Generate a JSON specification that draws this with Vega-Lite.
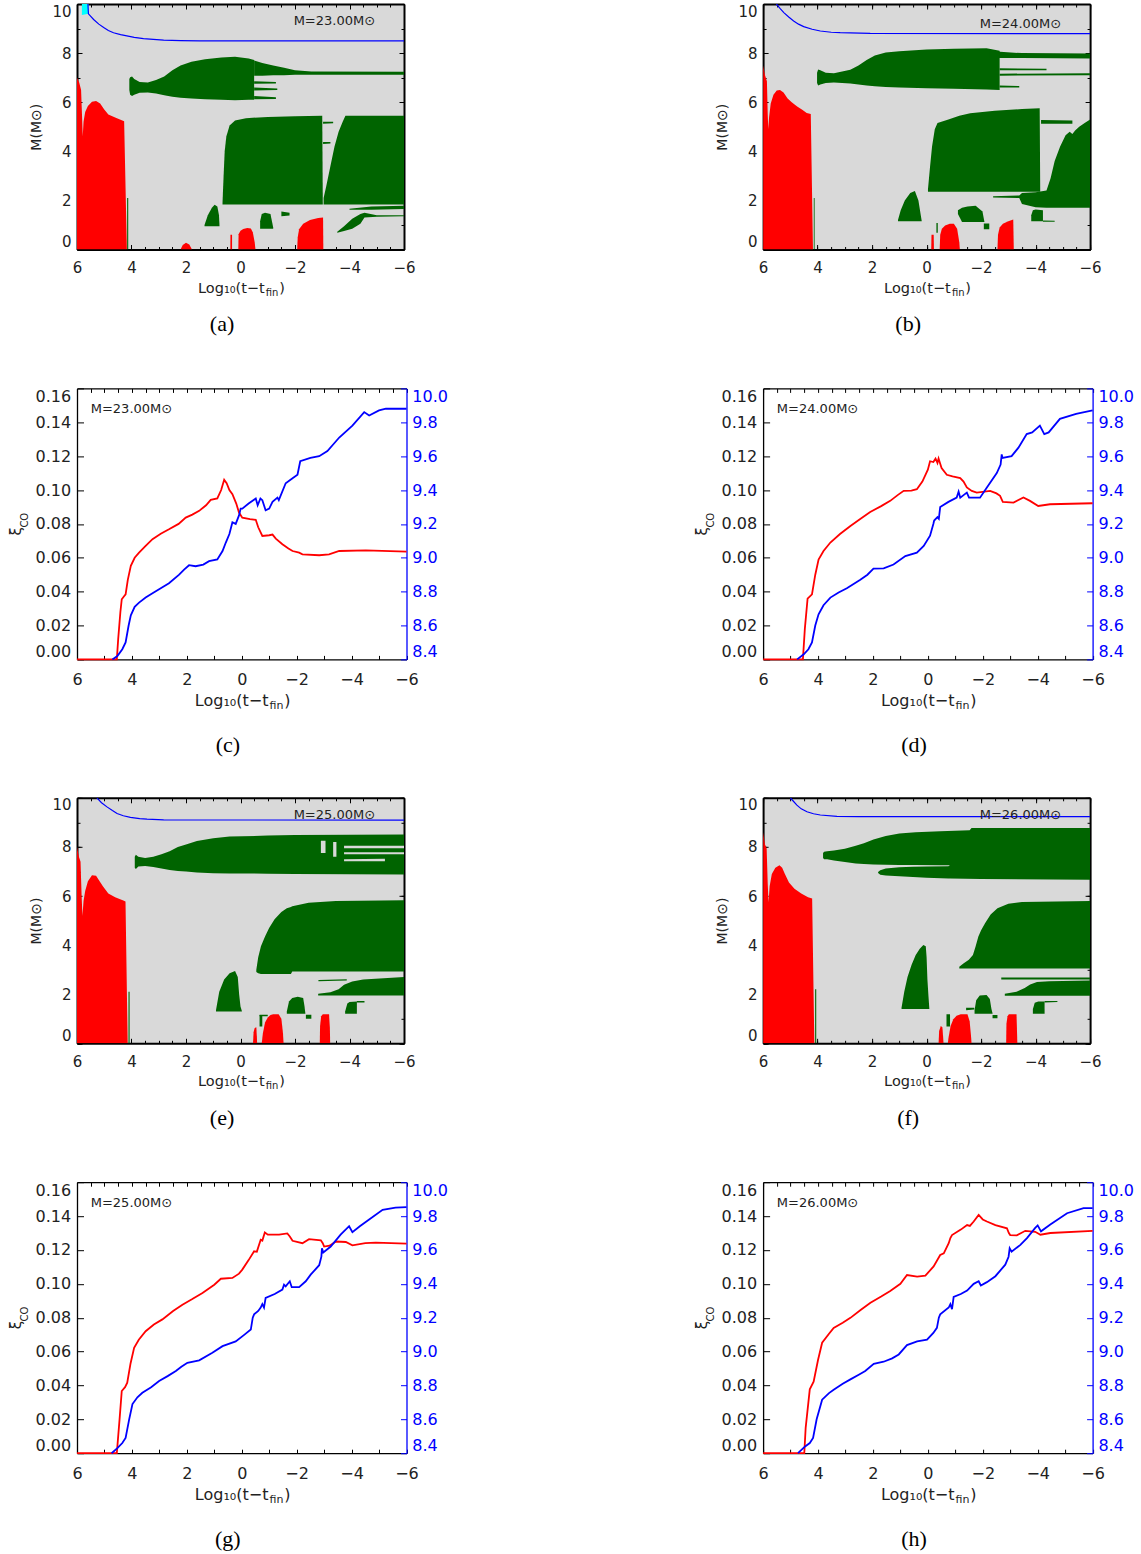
{
"$schema": "https://vega.github.io/schema/vega-lite/v6.json",
"background": "white",
"padding": {"left": 8, "top": 3, "right": 2, "bottom": 0},
"columns": 2,
"spacing": {"row": 138.4, "column": 356.1},
"bounds": "flush",
"config": {
 "view": {"stroke": null},
 "axis": {"grid": false, "zindex": 1, "labelFont": "DejaVu Sans", "titleFont": "DejaVu Sans", "labelColor": "#222", "titleColor": "#222", "titleFontWeight": "normal", "tickColor": "black", "domainColor": "black", "labelOverlap": false, "tickWidth": 1},
 "title": {"font": "Liberation Serif", "fontSize": 22, "fontWeight": "normal", "color": "black", "orient": "bottom", "anchor": "middle", "frame": "bounds", "baseline": "top"}
},
"datasets": {
"reg": [
{"g":"ar1","x":6,"l":0,"h":7.0},{"g":"ar1","x":5.92,"l":0,"h":6.8},{"g":"ar1","x":5.85,"l":0,"h":6.5},{"g":"ar1","x":5.81,"l":0,"h":5.3},{"g":"ar1","x":5.79,"l":0,"h":4.6},{"g":"ar1","x":5.76,"l":0,"h":5.2},{"g":"ar1","x":5.7,"l":0,"h":5.6},{"g":"ar1","x":5.6,"l":0,"h":5.85},{"g":"ar1","x":5.45,"l":0,"h":6.02},{"g":"ar1","x":5.3,"l":0,"h":6.05},{"g":"ar1","x":5.15,"l":0,"h":5.95},{"g":"ar1","x":5.0,"l":0,"h":5.7},{"g":"ar1","x":4.85,"l":0,"h":5.5},{"g":"ar1","x":4.6,"l":0,"h":5.38},{"g":"ar1","x":4.27,"l":0,"h":5.22},{"g":"ar1","x":4.17,"l":0,"h":0},
{"g":"ar2","x":2.2,"l":0,"h":0},{"g":"ar2","x":2.12,"l":0,"h":0.18},{"g":"ar2","x":2.0,"l":0,"h":0.27},{"g":"ar2","x":1.88,"l":0,"h":0.2},{"g":"ar2","x":1.78,"l":0,"h":0},
{"g":"ar3","x":0.371,"l":0,"h":0},{"g":"ar3","x":0.37,"l":0,"h":0.6},{"g":"ar3","x":0.31,"l":0,"h":0.6},{"g":"ar3","x":0.309,"l":0,"h":0},
{"g":"ar4","x":0.08,"l":0,"h":0},{"g":"ar4","x":0.07,"l":0,"h":0.62},{"g":"ar4","x":0.0,"l":0,"h":0.76},{"g":"ar4","x":-0.1,"l":0,"h":0.84},{"g":"ar4","x":-0.25,"l":0,"h":0.88},{"g":"ar4","x":-0.38,"l":0,"h":0.86},{"g":"ar4","x":-0.45,"l":0,"h":0.7},{"g":"ar4","x":-0.52,"l":0,"h":0.3},{"g":"ar4","x":-0.55,"l":0,"h":0},
{"g":"ar5","x":-2.08,"l":0,"h":0},{"g":"ar5","x":-2.1,"l":0,"h":0.5},{"g":"ar5","x":-2.15,"l":0,"h":0.82},{"g":"ar5","x":-2.3,"l":0,"h":1.05},{"g":"ar5","x":-2.55,"l":0,"h":1.2},{"g":"ar5","x":-2.85,"l":0,"h":1.28},{"g":"ar5","x":-3.03,"l":0,"h":1.3},{"g":"ar5","x":-3.04,"l":0,"h":0},
{"g":"ag1","x":4.08,"l":6.5,"h":6.95},{"g":"ag1","x":4.05,"l":6.3,"h":7.02},{"g":"ag1","x":3.98,"l":6.25,"h":7.05},{"g":"ag1","x":3.9,"l":6.3,"h":6.95},{"g":"ag1","x":3.7,"l":6.38,"h":6.82},{"g":"ag1","x":3.4,"l":6.4,"h":6.8},{"g":"ag1","x":3.1,"l":6.35,"h":6.9},{"g":"ag1","x":2.8,"l":6.28,"h":7.05},{"g":"ag1","x":2.5,"l":6.22,"h":7.3},{"g":"ag1","x":2.2,"l":6.18,"h":7.5},{"g":"ag1","x":1.8,"l":6.15,"h":7.65},{"g":"ag1","x":1.3,"l":6.12,"h":7.75},{"g":"ag1","x":0.7,"l":6.1,"h":7.82},{"g":"ag1","x":0.2,"l":6.08,"h":7.85},{"g":"ag1","x":-0.3,"l":6.1,"h":7.78},{"g":"ag1","x":-0.5,"l":6.1,"h":7.72},
{"g":"ag2","x":-0.5,"l":7.08,"h":7.7},{"g":"ag2","x":-0.8,"l":7.08,"h":7.6},{"g":"ag2","x":-1.2,"l":7.1,"h":7.5},{"g":"ag2","x":-1.6,"l":7.1,"h":7.4},{"g":"ag2","x":-2.0,"l":7.12,"h":7.3},{"g":"ag2","x":-2.6,"l":7.12,"h":7.25},{"g":"ag2","x":-6,"l":7.12,"h":7.24},
{"g":"ag3","x":-0.5,"l":6.75,"h":6.85},{"g":"ag3","x":-1.3,"l":6.76,"h":6.82},
{"g":"ag4","x":-0.5,"l":6.48,"h":6.6},{"g":"ag4","x":-1.35,"l":6.5,"h":6.56},
{"g":"ag5","x":-0.5,"l":6.12,"h":6.25},{"g":"ag5","x":-1.3,"l":6.13,"h":6.2},
{"g":"ag6","x":0.66,"l":1.83,"h":1.9},{"g":"ag6","x":0.62,"l":1.83,"h":3.0},{"g":"ag6","x":0.58,"l":1.83,"h":4.0},{"g":"ag6","x":0.52,"l":1.83,"h":4.6},{"g":"ag6","x":0.4,"l":1.83,"h":5.05},{"g":"ag6","x":0.2,"l":1.83,"h":5.25},{"g":"ag6","x":-0.2,"l":1.83,"h":5.35},{"g":"ag6","x":-1.0,"l":1.83,"h":5.4},{"g":"ag6","x":-2.0,"l":1.83,"h":5.43},{"g":"ag6","x":-3.0,"l":1.83,"h":5.45},{"g":"ag6","x":-3.02,"l":1.83,"h":1.9},
{"g":"ag7","x":-3.05,"l":1.83,"h":2.1},{"g":"ag7","x":-3.15,"l":1.83,"h":2.6},{"g":"ag7","x":-3.3,"l":1.83,"h":3.4},{"g":"ag7","x":-3.45,"l":1.83,"h":4.2},{"g":"ag7","x":-3.6,"l":1.83,"h":4.8},{"g":"ag7","x":-3.75,"l":1.83,"h":5.2},{"g":"ag7","x":-3.85,"l":1.83,"h":5.45},{"g":"ag7","x":-6,"l":1.83,"h":5.45},
{"g":"ag8","x":-3.55,"l":0.68,"h":0.72},{"g":"ag8","x":-3.8,"l":0.75,"h":0.95},{"g":"ag8","x":-4.1,"l":0.85,"h":1.25},{"g":"ag8","x":-4.4,"l":1.05,"h":1.45},{"g":"ag8","x":-4.55,"l":1.3,"h":1.5},{"g":"ag8","x":-5.0,"l":1.33,"h":1.4},{"g":"ag8","x":-6,"l":1.35,"h":1.4},
{"g":"ag9","x":-4.0,"l":1.62,"h":1.66},{"g":"ag9","x":-4.8,"l":1.62,"h":1.75},{"g":"ag9","x":-6,"l":1.65,"h":1.78},
{"g":"ag10","x":1.32,"l":0.95,"h":1.0},{"g":"ag10","x":1.2,"l":0.95,"h":1.4},{"g":"ag10","x":1.05,"l":0.95,"h":1.7},{"g":"ag10","x":0.95,"l":0.95,"h":1.82},{"g":"ag10","x":0.85,"l":0.95,"h":1.75},{"g":"ag10","x":0.79,"l":0.95,"h":1.4},{"g":"ag10","x":0.77,"l":0.95,"h":0.97},
{"g":"ag11","x":-0.72,"l":0.85,"h":1.15},{"g":"ag11","x":-0.78,"l":0.85,"h":1.45},{"g":"ag11","x":-0.9,"l":0.85,"h":1.5},{"g":"ag11","x":-1.1,"l":0.85,"h":1.45},{"g":"ag11","x":-1.2,"l":0.85,"h":0.9},
{"g":"ag12","x":-1.5,"l":1.35,"h":1.55},{"g":"ag12","x":-1.8,"l":1.38,"h":1.5},
{"g":"ag13","x":4.16,"l":0,"h":2.1},{"g":"ag13","x":4.12,"l":0,"h":2.1},
{"g":"ag14","x":-3.03,"l":5.12,"h":5.2},{"g":"ag14","x":-3.4,"l":5.14,"h":5.2},
{"g":"ag15","x":-3.03,"l":4.3,"h":4.38},{"g":"ag15","x":-3.3,"l":4.32,"h":4.38},
{"g":"ac1","k":"c","x":5.82,"l":9.55,"h":10},{"g":"ac1","k":"c","x":5.58,"l":9.6,"h":10},
{"g":"br1","x":6,"l":0,"h":7.5},{"g":"br1","x":5.93,"l":0,"h":7.1},{"g":"br1","x":5.86,"l":0,"h":6.85},{"g":"br1","x":5.83,"l":0,"h":5.5},{"g":"br1","x":5.81,"l":0,"h":4.9},{"g":"br1","x":5.78,"l":0,"h":5.4},{"g":"br1","x":5.72,"l":0,"h":5.95},{"g":"br1","x":5.62,"l":0,"h":6.3},{"g":"br1","x":5.5,"l":0,"h":6.48},{"g":"br1","x":5.38,"l":0,"h":6.5},{"g":"br1","x":5.25,"l":0,"h":6.4},{"g":"br1","x":5.1,"l":0,"h":6.15},{"g":"br1","x":4.95,"l":0,"h":6.0},{"g":"br1","x":4.75,"l":0,"h":5.82},{"g":"br1","x":4.55,"l":0,"h":5.68},{"g":"br1","x":4.4,"l":0,"h":5.56},{"g":"br1","x":4.25,"l":0,"h":5.52},{"g":"br1","x":4.17,"l":0,"h":0},
{"g":"br2","x":-0.17,"l":0,"h":0},{"g":"br2","x":-0.18,"l":0,"h":0.6},{"g":"br2","x":-0.26,"l":0,"h":0.6},{"g":"br2","x":-0.27,"l":0,"h":0},
{"g":"br3","x":-0.48,"l":0,"h":0},{"g":"br3","x":-0.5,"l":0,"h":0.6},{"g":"br3","x":-0.56,"l":0,"h":0.85},{"g":"br3","x":-0.68,"l":0,"h":0.98},{"g":"br3","x":-0.85,"l":0,"h":1.05},{"g":"br3","x":-1.0,"l":0,"h":1.05},{"g":"br3","x":-1.12,"l":0,"h":0.85},{"g":"br3","x":-1.2,"l":0,"h":0.3},{"g":"br3","x":-1.22,"l":0,"h":0},
{"g":"br4","x":-2.6,"l":0,"h":0},{"g":"br4","x":-2.62,"l":0,"h":0.6},{"g":"br4","x":-2.68,"l":0,"h":0.9},{"g":"br4","x":-2.8,"l":0,"h":1.05},{"g":"br4","x":-3.0,"l":0,"h":1.15},{"g":"br4","x":-3.18,"l":0,"h":1.22},{"g":"br4","x":-3.2,"l":0,"h":0},
{"g":"bg1","x":4.02,"l":6.78,"h":7.2},{"g":"bg1","x":3.98,"l":6.68,"h":7.33},{"g":"bg1","x":3.9,"l":6.72,"h":7.3},{"g":"bg1","x":3.7,"l":6.78,"h":7.2},{"g":"bg1","x":3.4,"l":6.8,"h":7.18},{"g":"bg1","x":3.1,"l":6.78,"h":7.25},{"g":"bg1","x":2.8,"l":6.76,"h":7.32},{"g":"bg1","x":2.5,"l":6.72,"h":7.5},{"g":"bg1","x":2.2,"l":6.68,"h":7.72},{"g":"bg1","x":1.9,"l":6.65,"h":7.9},{"g":"bg1","x":1.5,"l":6.62,"h":8.02},{"g":"bg1","x":1.0,"l":6.6,"h":8.08},{"g":"bg1","x":0.0,"l":6.57,"h":8.15},{"g":"bg1","x":-1.0,"l":6.55,"h":8.18},{"g":"bg1","x":-2.2,"l":6.52,"h":8.2},{"g":"bg1","x":-2.68,"l":6.5,"h":8.1},
{"g":"bg2","x":-2.3,"l":7.8,"h":8.15},{"g":"bg2","x":-2.7,"l":7.8,"h":8.05},{"g":"bg2","x":-3.5,"l":7.8,"h":8.0},{"g":"bg2","x":-6,"l":7.78,"h":7.98},
{"g":"bg3","x":-2.68,"l":7.3,"h":7.38},{"g":"bg3","x":-4.4,"l":7.3,"h":7.36},
{"g":"bg4","x":-2.68,"l":7.08,"h":7.16},{"g":"bg4","x":-6,"l":7.1,"h":7.18},
{"g":"bg5","x":-2.68,"l":6.6,"h":6.68},{"g":"bg5","x":-3.4,"l":6.6,"h":6.66},
{"g":"bg6","x":-0.05,"l":2.35,"h":2.45},{"g":"bg6","x":-0.12,"l":2.35,"h":3.3},{"g":"bg6","x":-0.2,"l":2.35,"h":4.2},{"g":"bg6","x":-0.3,"l":2.35,"h":4.9},{"g":"bg6","x":-0.4,"l":2.35,"h":5.15},{"g":"bg6","x":-0.8,"l":2.35,"h":5.3},{"g":"bg6","x":-1.2,"l":2.35,"h":5.45},{"g":"bg6","x":-1.6,"l":2.35,"h":5.55},{"g":"bg6","x":-2.5,"l":2.35,"h":5.65},{"g":"bg6","x":-3.5,"l":2.35,"h":5.72},{"g":"bg6","x":-4.15,"l":2.35,"h":5.75},{"g":"bg6","x":-4.17,"l":2.35,"h":2.4},
{"g":"bg7","x":-2.44,"l":2.12,"h":2.17},{"g":"bg7","x":-3.4,"l":2.1,"h":2.2},{"g":"bg7","x":-3.5,"l":1.85,"h":2.3},{"g":"bg7","x":-4.0,"l":1.72,"h":2.33},{"g":"bg7","x":-4.4,"l":1.7,"h":2.4},{"g":"bg7","x":-4.55,"l":1.7,"h":2.9},{"g":"bg7","x":-4.7,"l":1.7,"h":3.6},{"g":"bg7","x":-4.9,"l":1.7,"h":4.2},{"g":"bg7","x":-5.1,"l":1.7,"h":4.65},{"g":"bg7","x":-5.25,"l":1.7,"h":4.8},{"g":"bg7","x":-5.35,"l":1.7,"h":4.7},{"g":"bg7","x":-5.45,"l":1.7,"h":4.85},{"g":"bg7","x":-5.6,"l":1.7,"h":5.0},{"g":"bg7","x":-5.8,"l":1.7,"h":5.15},{"g":"bg7","x":-6,"l":1.7,"h":5.3},
{"g":"bg8","x":-4.2,"l":5.12,"h":5.28},{"g":"bg8","x":-5.35,"l":5.12,"h":5.25},
{"g":"bg9","x":1.05,"l":1.15,"h":1.2},{"g":"bg9","x":0.95,"l":1.15,"h":1.6},{"g":"bg9","x":0.8,"l":1.15,"h":2.0},{"g":"bg9","x":0.6,"l":1.15,"h":2.3},{"g":"bg9","x":0.43,"l":1.15,"h":2.38},{"g":"bg9","x":0.3,"l":1.15,"h":2.0},{"g":"bg9","x":0.2,"l":1.15,"h":1.3},{"g":"bg9","x":0.18,"l":1.15,"h":1.17},
{"g":"bg10","x":-1.15,"l":1.45,"h":1.6},{"g":"bg10","x":-1.3,"l":1.12,"h":1.7},{"g":"bg10","x":-1.5,"l":1.12,"h":1.75},{"g":"bg10","x":-1.8,"l":1.12,"h":1.78},{"g":"bg10","x":-2.05,"l":1.12,"h":1.55},{"g":"bg10","x":-2.12,"l":1.12,"h":1.14},
{"g":"bg11","x":-2.1,"l":0.82,"h":1.06},{"g":"bg11","x":-2.3,"l":0.82,"h":1.06},
{"g":"bg12","x":-0.36,"l":0.68,"h":1.08},{"g":"bg12","x":-0.41,"l":0.68,"h":1.08},
{"g":"bg13","x":-3.84,"l":1.15,"h":1.4},{"g":"bg13","x":-3.9,"l":1.15,"h":1.6},{"g":"bg13","x":-4.0,"l":1.15,"h":1.63},{"g":"bg13","x":-4.27,"l":1.15,"h":1.6},
{"g":"bg14","x":-4.27,"l":1.13,"h":1.18},{"g":"bg14","x":-4.7,"l":1.13,"h":1.17},
{"g":"bg15","x":4.14,"l":0,"h":2.1},{"g":"bg15","x":4.11,"l":0,"h":2.1},
{"g":"er1","x":6,"l":0,"h":8.0},{"g":"er1","x":5.93,"l":0,"h":7.6},{"g":"er1","x":5.87,"l":0,"h":7.4},{"g":"er1","x":5.83,"l":0,"h":6.0},{"g":"er1","x":5.8,"l":0,"h":5.2},{"g":"er1","x":5.76,"l":0,"h":5.8},{"g":"er1","x":5.7,"l":0,"h":6.2},{"g":"er1","x":5.6,"l":0,"h":6.6},{"g":"er1","x":5.45,"l":0,"h":6.85},{"g":"er1","x":5.3,"l":0,"h":6.82},{"g":"er1","x":5.2,"l":0,"h":6.65},{"g":"er1","x":5.05,"l":0,"h":6.4},{"g":"er1","x":4.85,"l":0,"h":6.1},{"g":"er1","x":4.6,"l":0,"h":5.95},{"g":"er1","x":4.3,"l":0,"h":5.82},{"g":"er1","x":4.22,"l":0,"h":5.78},{"g":"er1","x":4.14,"l":0,"h":0},
{"g":"er2","x":-0.46,"l":0,"h":0},{"g":"er2","x":-0.48,"l":0,"h":0.45},{"g":"er2","x":-0.52,"l":0,"h":0.62},{"g":"er2","x":-0.58,"l":0,"h":0.65},{"g":"er2","x":-0.6,"l":0,"h":0.3},{"g":"er2","x":-0.61,"l":0,"h":0},
{"g":"er3","x":-0.78,"l":0,"h":0},{"g":"er3","x":-0.82,"l":0,"h":0.4},{"g":"er3","x":-0.9,"l":0,"h":0.85},{"g":"er3","x":-1.0,"l":0,"h":1.05},{"g":"er3","x":-1.1,"l":0,"h":1.15},{"g":"er3","x":-1.2,"l":0,"h":1.18},{"g":"er3","x":-1.4,"l":0,"h":1.18},{"g":"er3","x":-1.5,"l":0,"h":1.0},{"g":"er3","x":-1.56,"l":0,"h":0.4},{"g":"er3","x":-1.58,"l":0,"h":0},
{"g":"er4","x":-2.91,"l":0,"h":0},{"g":"er4","x":-2.92,"l":0,"h":0.7},{"g":"er4","x":-2.96,"l":0,"h":1.1},{"g":"er4","x":-3.02,"l":0,"h":1.18},{"g":"er4","x":-3.25,"l":0,"h":1.18},{"g":"er4","x":-3.28,"l":0,"h":0.6},{"g":"er4","x":-3.29,"l":0,"h":0},
{"g":"eg1","x":3.88,"l":7.15,"h":7.6},{"g":"eg1","x":3.84,"l":7.1,"h":7.68},{"g":"eg1","x":3.75,"l":7.2,"h":7.6},{"g":"eg1","x":3.5,"l":7.22,"h":7.55},{"g":"eg1","x":3.2,"l":7.18,"h":7.6},{"g":"eg1","x":2.9,"l":7.12,"h":7.7},{"g":"eg1","x":2.6,"l":7.06,"h":7.82},{"g":"eg1","x":2.3,"l":7.02,"h":8.0},{"g":"eg1","x":2.0,"l":7.0,"h":8.1},{"g":"eg1","x":1.6,"l":6.96,"h":8.24},{"g":"eg1","x":1.0,"l":6.93,"h":8.35},{"g":"eg1","x":0.4,"l":6.92,"h":8.42},{"g":"eg1","x":-1.0,"l":6.91,"h":8.46},{"g":"eg1","x":-2.0,"l":6.9,"h":8.48},{"g":"eg1","x":-6,"l":6.88,"h":8.5},
{"g":"eh1","k":"h","x":-2.95,"l":7.75,"h":8.25},{"g":"eh1","k":"h","x":-3.12,"l":7.75,"h":8.25},
{"g":"eh2","k":"h","x":-3.8,"l":7.95,"h":8.05},{"g":"eh2","k":"h","x":-6,"l":7.95,"h":8.05},
{"g":"eh3","k":"h","x":-3.8,"l":7.7,"h":7.78},{"g":"eh3","k":"h","x":-6,"l":7.7,"h":7.78},
{"g":"eh4","k":"h","x":-3.8,"l":7.42,"h":7.5},{"g":"eh4","k":"h","x":-5.3,"l":7.42,"h":7.52},
{"g":"eh5","k":"h","x":-3.4,"l":7.6,"h":8.2},{"g":"eh5","k":"h","x":-3.52,"l":7.6,"h":8.2},
{"g":"eg2","x":-0.58,"l":2.9,"h":3.0},{"g":"eg2","x":-0.65,"l":2.85,"h":3.5},{"g":"eg2","x":-0.75,"l":2.82,"h":3.95},{"g":"eg2","x":-0.9,"l":2.82,"h":4.35},{"g":"eg2","x":-1.05,"l":2.82,"h":4.7},{"g":"eg2","x":-1.25,"l":2.82,"h":5.05},{"g":"eg2","x":-1.5,"l":2.82,"h":5.35},{"g":"eg2","x":-1.7,"l":2.82,"h":5.5},{"g":"eg2","x":-1.85,"l":2.82,"h":5.55},{"g":"eg2","x":-1.9,"l":2.92,"h":5.58},{"g":"eg2","x":-2.5,"l":2.92,"h":5.72},{"g":"eg2","x":-3.5,"l":2.92,"h":5.8},{"g":"eg2","x":-6,"l":2.92,"h":5.83},
{"g":"eg3","x":-2.85,"l":1.95,"h":2.02},{"g":"eg3","x":-3.3,"l":1.95,"h":2.08},{"g":"eg3","x":-3.6,"l":1.95,"h":2.2},{"g":"eg3","x":-3.8,"l":1.95,"h":2.38},{"g":"eg3","x":-4.1,"l":1.95,"h":2.52},{"g":"eg3","x":-4.5,"l":1.95,"h":2.6},{"g":"eg3","x":-6,"l":1.95,"h":2.7},
{"g":"eg4","x":-2.86,"l":2.53,"h":2.58},{"g":"eg4","x":-3.9,"l":2.56,"h":2.61},
{"g":"eg5","x":0.9,"l":1.3,"h":1.35},{"g":"eg5","x":0.78,"l":1.3,"h":2.1},{"g":"eg5","x":0.6,"l":1.3,"h":2.6},{"g":"eg5","x":0.4,"l":1.3,"h":2.85},{"g":"eg5","x":0.2,"l":1.3,"h":2.95},{"g":"eg5","x":0.1,"l":1.3,"h":2.7},{"g":"eg5","x":0.05,"l":1.3,"h":2.0},{"g":"eg5","x":0.0,"l":1.3,"h":1.5},{"g":"eg5","x":-0.05,"l":1.3,"h":1.32},
{"g":"eg6","x":-1.7,"l":1.2,"h":1.3},{"g":"eg6","x":-1.78,"l":1.2,"h":1.7},{"g":"eg6","x":-1.9,"l":1.2,"h":1.85},{"g":"eg6","x":-2.1,"l":1.2,"h":1.9},{"g":"eg6","x":-2.3,"l":1.2,"h":1.85},{"g":"eg6","x":-2.35,"l":1.2,"h":1.5},{"g":"eg6","x":-2.38,"l":1.2,"h":1.22},
{"g":"eg7","x":-2.4,"l":1.0,"h":1.16},{"g":"eg7","x":-2.6,"l":1.0,"h":1.16},
{"g":"eg8","x":-3.84,"l":1.2,"h":1.3},{"g":"eg8","x":-3.92,"l":1.2,"h":1.62},{"g":"eg8","x":-4.0,"l":1.2,"h":1.68},{"g":"eg8","x":-4.27,"l":1.2,"h":1.7},
{"g":"eg9","x":-4.27,"l":1.66,"h":1.72},{"g":"eg9","x":-4.55,"l":1.66,"h":1.72},
{"g":"eg10","x":-0.7,"l":0.68,"h":1.15},{"g":"eg10","x":-0.8,"l":0.68,"h":1.15},
{"g":"eg11","x":-0.7,"l":1.1,"h":1.16},{"g":"eg11","x":-1.0,"l":1.1,"h":1.16},
{"g":"eg12","x":4.11,"l":0,"h":2.1},{"g":"eg12","x":4.07,"l":0,"h":2.1},
{"g":"fr1","x":6,"l":0,"h":8.6},{"g":"fr1","x":5.93,"l":0,"h":8.1},{"g":"fr1","x":5.87,"l":0,"h":7.95},{"g":"fr1","x":5.83,"l":0,"h":6.5},{"g":"fr1","x":5.8,"l":0,"h":5.75},{"g":"fr1","x":5.76,"l":0,"h":6.4},{"g":"fr1","x":5.68,"l":0,"h":6.9},{"g":"fr1","x":5.55,"l":0,"h":7.15},{"g":"fr1","x":5.4,"l":0,"h":7.25},{"g":"fr1","x":5.3,"l":0,"h":7.15},{"g":"fr1","x":5.2,"l":0,"h":6.9},{"g":"fr1","x":5.05,"l":0,"h":6.55},{"g":"fr1","x":4.85,"l":0,"h":6.3},{"g":"fr1","x":4.6,"l":0,"h":6.1},{"g":"fr1","x":4.35,"l":0,"h":5.95},{"g":"fr1","x":4.2,"l":0,"h":5.9},{"g":"fr1","x":4.12,"l":0,"h":0},
{"g":"fr2","x":-0.44,"l":0,"h":0},{"g":"fr2","x":-0.46,"l":0,"h":0.5},{"g":"fr2","x":-0.52,"l":0,"h":0.7},{"g":"fr2","x":-0.58,"l":0,"h":0.65},{"g":"fr2","x":-0.61,"l":0,"h":0.2},{"g":"fr2","x":-0.62,"l":0,"h":0},
{"g":"fr3","x":-0.78,"l":0,"h":0},{"g":"fr3","x":-0.8,"l":0,"h":0.2},{"g":"fr3","x":-0.88,"l":0,"h":0.7},{"g":"fr3","x":-0.98,"l":0,"h":0.98},{"g":"fr3","x":-1.1,"l":0,"h":1.12},{"g":"fr3","x":-1.25,"l":0,"h":1.18},{"g":"fr3","x":-1.5,"l":0,"h":1.18},{"g":"fr3","x":-1.58,"l":0,"h":0.9},{"g":"fr3","x":-1.63,"l":0,"h":0.3},{"g":"fr3","x":-1.65,"l":0,"h":0},
{"g":"fr4","x":-2.92,"l":0,"h":0},{"g":"fr4","x":-2.93,"l":0,"h":0.8},{"g":"fr4","x":-2.97,"l":0,"h":1.1},{"g":"fr4","x":-3.02,"l":0,"h":1.18},{"g":"fr4","x":-3.3,"l":0,"h":1.18},{"g":"fr4","x":-3.33,"l":0,"h":0},
{"g":"fg1","x":3.8,"l":7.55,"h":7.75},{"g":"fg1","x":3.76,"l":7.5,"h":7.8},{"g":"fg1","x":3.65,"l":7.5,"h":7.82},{"g":"fg1","x":3.4,"l":7.45,"h":7.85},{"g":"fg1","x":3.0,"l":7.38,"h":7.92},{"g":"fg1","x":2.6,"l":7.32,"h":8.05},{"g":"fg1","x":2.3,"l":7.3,"h":8.15},{"g":"fg1","x":1.95,"l":7.28,"h":8.3},{"g":"fg1","x":1.5,"l":7.27,"h":8.44},{"g":"fg1","x":1.0,"l":7.26,"h":8.55},{"g":"fg1","x":0.4,"l":7.26,"h":8.6},{"g":"fg1","x":-0.5,"l":7.25,"h":8.64},{"g":"fg1","x":-1.58,"l":7.25,"h":8.68},{"g":"fg1","x":-1.65,"l":7.25,"h":8.77},{"g":"fg1","x":-6,"l":7.25,"h":8.77},
{"g":"fg2","x":1.78,"l":6.94,"h":6.98},{"g":"fg2","x":1.7,"l":6.87,"h":7.05},{"g":"fg2","x":1.5,"l":6.84,"h":7.12},{"g":"fg2","x":1.0,"l":6.8,"h":7.17},{"g":"fg2","x":0.5,"l":6.77,"h":7.19},{"g":"fg2","x":0.0,"l":6.74,"h":7.2},{"g":"fg2","x":-0.8,"l":6.71,"h":7.21},{"g":"fg2","x":-0.86,"l":6.71,"h":7.26},{"g":"fg2","x":-2.0,"l":6.69,"h":7.26},{"g":"fg2","x":-6,"l":6.66,"h":7.26},
{"g":"fg3","x":-1.2,"l":3.05,"h":3.12},{"g":"fg3","x":-1.35,"l":3.05,"h":3.25},{"g":"fg3","x":-1.55,"l":3.05,"h":3.4},{"g":"fg3","x":-1.7,"l":3.05,"h":3.6},{"g":"fg3","x":-1.8,"l":3.05,"h":3.95},{"g":"fg3","x":-1.9,"l":3.05,"h":4.35},{"g":"fg3","x":-2.0,"l":3.05,"h":4.6},{"g":"fg3","x":-2.15,"l":3.05,"h":4.9},{"g":"fg3","x":-2.35,"l":3.05,"h":5.25},{"g":"fg3","x":-2.6,"l":3.05,"h":5.5},{"g":"fg3","x":-3.0,"l":3.05,"h":5.68},{"g":"fg3","x":-3.5,"l":3.05,"h":5.76},{"g":"fg3","x":-6,"l":3.05,"h":5.8},
{"g":"fg4","x":-2.74,"l":2.6,"h":2.68},{"g":"fg4","x":-6,"l":2.6,"h":2.68},
{"g":"fg5","x":-2.87,"l":1.94,"h":2.02},{"g":"fg5","x":-3.3,"l":1.94,"h":2.1},{"g":"fg5","x":-3.6,"l":1.94,"h":2.25},{"g":"fg5","x":-3.8,"l":1.94,"h":2.4},{"g":"fg5","x":-4.05,"l":1.94,"h":2.5},{"g":"fg5","x":-4.5,"l":1.94,"h":2.53},{"g":"fg5","x":-6,"l":1.94,"h":2.56},
{"g":"fg6","x":0.92,"l":1.4,"h":1.45},{"g":"fg6","x":0.82,"l":1.4,"h":2.1},{"g":"fg6","x":0.7,"l":1.4,"h":2.7},{"g":"fg6","x":0.55,"l":1.4,"h":3.2},{"g":"fg6","x":0.4,"l":1.4,"h":3.6},{"g":"fg6","x":0.25,"l":1.4,"h":3.85},{"g":"fg6","x":0.12,"l":1.4,"h":4.0},{"g":"fg6","x":0.03,"l":1.4,"h":3.95},{"g":"fg6","x":0.0,"l":1.4,"h":3.5},{"g":"fg6","x":-0.03,"l":1.4,"h":2.6},{"g":"fg6","x":-0.07,"l":1.4,"h":1.9},{"g":"fg6","x":-0.1,"l":1.4,"h":1.42},
{"g":"fg7","x":-1.76,"l":1.2,"h":1.35},{"g":"fg7","x":-1.82,"l":1.2,"h":1.75},{"g":"fg7","x":-1.95,"l":1.2,"h":1.95},{"g":"fg7","x":-2.2,"l":1.2,"h":1.97},{"g":"fg7","x":-2.32,"l":1.2,"h":1.8},{"g":"fg7","x":-2.38,"l":1.2,"h":1.4},{"g":"fg7","x":-2.42,"l":1.2,"h":1.22},
{"g":"fg8","x":-2.42,"l":1.02,"h":1.15},{"g":"fg8","x":-2.6,"l":1.02,"h":1.15},
{"g":"fg9","x":-1.45,"l":1.35,"h":1.45},{"g":"fg9","x":-1.75,"l":1.38,"h":1.45},
{"g":"fg10","x":-3.9,"l":1.2,"h":1.4},{"g":"fg10","x":-3.97,"l":1.2,"h":1.65},{"g":"fg10","x":-4.1,"l":1.2,"h":1.7},{"g":"fg10","x":-4.33,"l":1.2,"h":1.7},
{"g":"fg11","x":-4.33,"l":1.66,"h":1.72},{"g":"fg11","x":-4.8,"l":1.68,"h":1.72},
{"g":"fg12","x":-0.73,"l":0.68,"h":1.18},{"g":"fg12","x":-0.86,"l":0.68,"h":1.18},
{"g":"fg13","x":4.09,"l":0,"h":2.2},{"g":"fg13","x":4.05,"l":0,"h":2.2}
],
"kl": [
{"g":"a","x":5.6,"y":10},{"g":"a","x":5.58,"y":9.6},{"g":"a","x":5.39,"y":9.37},{"g":"a","x":5.2,"y":9.18},{"g":"a","x":5.02,"y":9.04},{"g":"a","x":4.85,"y":8.92},{"g":"a","x":4.66,"y":8.83},{"g":"a","x":4.4,"y":8.75},{"g":"a","x":4.17,"y":8.7},{"g":"a","x":3.9,"y":8.64},{"g":"a","x":3.56,"y":8.59},{"g":"a","x":3.2,"y":8.56},{"g":"a","x":2.82,"y":8.53},{"g":"a","x":2.2,"y":8.51},{"g":"a","x":1.5,"y":8.5},{"g":"a","x":-6,"y":8.5},
{"g":"b","x":5.51,"y":10.0},{"g":"b","x":5.38,"y":9.82},{"g":"b","x":5.24,"y":9.65},{"g":"b","x":5.06,"y":9.47},{"g":"b","x":4.88,"y":9.31},{"g":"b","x":4.7,"y":9.18},{"g":"b","x":4.51,"y":9.08},{"g":"b","x":4.2,"y":8.97},{"g":"b","x":3.9,"y":8.9},{"g":"b","x":3.5,"y":8.85},{"g":"b","x":3.17,"y":8.83},{"g":"b","x":2.07,"y":8.8},{"g":"b","x":-6,"y":8.79},
{"g":"e","x":5.27,"y":10.0},{"g":"e","x":5.1,"y":9.8},{"g":"e","x":4.9,"y":9.63},{"g":"e","x":4.7,"y":9.48},{"g":"e","x":4.53,"y":9.36},{"g":"e","x":4.3,"y":9.27},{"g":"e","x":4.04,"y":9.2},{"g":"e","x":3.7,"y":9.15},{"g":"e","x":3.43,"y":9.13},{"g":"e","x":2.82,"y":9.1},{"g":"e","x":-6,"y":9.09},
{"g":"f","x":5.0,"y":10.0},{"g":"f","x":4.88,"y":9.85},{"g":"f","x":4.76,"y":9.7},{"g":"f","x":4.6,"y":9.55},{"g":"f","x":4.39,"y":9.43},{"g":"f","x":4.15,"y":9.35},{"g":"f","x":3.9,"y":9.3},{"g":"f","x":3.29,"y":9.24},{"g":"f","x":2.5,"y":9.23},{"g":"f","x":-6,"y":9.23}
],
"tx": [
{"g":"a","x":-1.95,"y":9.3,"t":"M=23.00M⊙"},{"g":"b","x":-1.95,"y":9.2,"t":"M=24.00M⊙"},{"g":"e","x":-1.95,"y":9.28,"t":"M=25.00M⊙"},{"g":"f","x":-1.95,"y":9.28,"t":"M=26.00M⊙"},
{"g":"c","x":5.5,"y":0.148,"t":"M=23.00M⊙"},{"g":"d","x":5.5,"y":0.148,"t":"M=24.00M⊙"},{"g":"g","x":5.5,"y":0.148,"t":"M=25.00M⊙"},{"g":"h","x":5.5,"y":0.148,"t":"M=26.00M⊙"}
],
"xi": [
{"g":"cr","x":6,"y":0},{"g":"cr","x":4.55,"y":0},{"g":"cr","x":4.5,"y":0.012},{"g":"cr","x":4.42,"y":0.028},{"g":"cr","x":4.37,"y":0.0355},{"g":"cr","x":4.3,"y":0.037},{"g":"cr","x":4.23,"y":0.0384},{"g":"cr","x":4.15,"y":0.047},{"g":"cr","x":4.04,"y":0.0552},{"g":"cr","x":3.9,"y":0.06},{"g":"cr","x":3.74,"y":0.063},{"g":"cr","x":3.5,"y":0.067},{"g":"cr","x":3.25,"y":0.071},{"g":"cr","x":2.95,"y":0.0742},{"g":"cr","x":2.65,"y":0.0768},{"g":"cr","x":2.3,"y":0.08},{"g":"cr","x":2.04,"y":0.0837},{"g":"cr","x":1.8,"y":0.0855},{"g":"cr","x":1.55,"y":0.0877},{"g":"cr","x":1.3,"y":0.091},{"g":"cr","x":1.13,"y":0.0942},{"g":"cr","x":0.89,"y":0.095},{"g":"cr","x":0.75,"y":0.1},{"g":"cr","x":0.64,"y":0.106},{"g":"cr","x":0.55,"y":0.104},{"g":"cr","x":0.45,"y":0.1},{"g":"cr","x":0.34,"y":0.0975},{"g":"cr","x":0.2,"y":0.092},{"g":"cr","x":0.1,"y":0.0867},{"g":"cr","x":-0.02,"y":0.0837},{"g":"cr","x":-0.3,"y":0.0828},{"g":"cr","x":-0.51,"y":0.0824},{"g":"cr","x":-0.6,"y":0.078},{"g":"cr","x":-0.75,"y":0.0729},{"g":"cr","x":-1.0,"y":0.0733},{"g":"cr","x":-1.12,"y":0.0737},{"g":"cr","x":-1.24,"y":0.0713},{"g":"cr","x":-1.48,"y":0.068},{"g":"cr","x":-1.7,"y":0.0655},{"g":"cr","x":-1.85,"y":0.064},{"g":"cr","x":-2.09,"y":0.063},{"g":"cr","x":-2.21,"y":0.062},{"g":"cr","x":-2.82,"y":0.0615},{"g":"cr","x":-3.18,"y":0.062},{"g":"cr","x":-3.55,"y":0.064},{"g":"cr","x":-4.52,"y":0.0644},{"g":"cr","x":-6,"y":0.0636},
{"g":"cb","x":4.71,"y":8.4},{"g":"cb","x":4.53,"y":8.42},{"g":"cb","x":4.35,"y":8.46},{"g":"cb","x":4.23,"y":8.5},{"g":"cb","x":4.12,"y":8.6},{"g":"cb","x":4.04,"y":8.66},{"g":"cb","x":3.9,"y":8.71},{"g":"cb","x":3.74,"y":8.735},{"g":"cb","x":3.5,"y":8.765},{"g":"cb","x":3.25,"y":8.79},{"g":"cb","x":2.95,"y":8.82},{"g":"cb","x":2.65,"y":8.85},{"g":"cb","x":2.28,"y":8.9},{"g":"cb","x":2.1,"y":8.93},{"g":"cb","x":1.92,"y":8.956},{"g":"cb","x":1.68,"y":8.95},{"g":"cb","x":1.4,"y":8.96},{"g":"cb","x":1.19,"y":8.98},{"g":"cb","x":0.89,"y":8.99},{"g":"cb","x":0.7,"y":9.04},{"g":"cb","x":0.58,"y":9.09},{"g":"cb","x":0.45,"y":9.14},{"g":"cb","x":0.34,"y":9.21},{"g":"cb","x":0.22,"y":9.2},{"g":"cb","x":0.1,"y":9.25},{"g":"cb","x":0.04,"y":9.29},{"g":"cb","x":-0.02,"y":9.29},{"g":"cb","x":-0.25,"y":9.32},{"g":"cb","x":-0.51,"y":9.35},{"g":"cb","x":-0.58,"y":9.31},{"g":"cb","x":-0.68,"y":9.35},{"g":"cb","x":-0.75,"y":9.34},{"g":"cb","x":-0.87,"y":9.28},{"g":"cb","x":-1.0,"y":9.29},{"g":"cb","x":-1.12,"y":9.33},{"g":"cb","x":-1.3,"y":9.355},{"g":"cb","x":-1.35,"y":9.34},{"g":"cb","x":-1.6,"y":9.44},{"g":"cb","x":-1.85,"y":9.47},{"g":"cb","x":-2.03,"y":9.49},{"g":"cb","x":-2.13,"y":9.57},{"g":"cb","x":-2.5,"y":9.59},{"g":"cb","x":-2.82,"y":9.6},{"g":"cb","x":-3.12,"y":9.63},{"g":"cb","x":-3.55,"y":9.71},{"g":"cb","x":-4.03,"y":9.78},{"g":"cb","x":-4.46,"y":9.86},{"g":"cb","x":-4.64,"y":9.84},{"g":"cb","x":-5.0,"y":9.87},{"g":"cb","x":-5.25,"y":9.88},{"g":"cb","x":-6,"y":9.88},
{"g":"dr","x":6,"y":0},{"g":"dr","x":4.55,"y":0},{"g":"dr","x":4.48,"y":0.018},{"g":"dr","x":4.38,"y":0.0359},{"g":"dr","x":4.22,"y":0.0384},{"g":"dr","x":4.1,"y":0.05},{"g":"dr","x":3.98,"y":0.059},{"g":"dr","x":3.8,"y":0.064},{"g":"dr","x":3.55,"y":0.069},{"g":"dr","x":3.2,"y":0.074},{"g":"dr","x":2.82,"y":0.0788},{"g":"dr","x":2.45,"y":0.083},{"g":"dr","x":2.1,"y":0.087},{"g":"dr","x":1.7,"y":0.0905},{"g":"dr","x":1.37,"y":0.0936},{"g":"dr","x":1.1,"y":0.097},{"g":"dr","x":0.88,"y":0.0995},{"g":"dr","x":0.6,"y":0.0997},{"g":"dr","x":0.4,"y":0.1005},{"g":"dr","x":0.2,"y":0.105},{"g":"dr","x":0.0,"y":0.112},{"g":"dr","x":-0.08,"y":0.117},{"g":"dr","x":-0.2,"y":0.1165},{"g":"dr","x":-0.28,"y":0.1185},{"g":"dr","x":-0.35,"y":0.116},{"g":"dr","x":-0.39,"y":0.1186},{"g":"dr","x":-0.5,"y":0.113},{"g":"dr","x":-0.69,"y":0.109},{"g":"dr","x":-0.9,"y":0.108},{"g":"dr","x":-1.18,"y":0.107},{"g":"dr","x":-1.3,"y":0.105},{"g":"dr","x":-1.42,"y":0.1015},{"g":"dr","x":-1.6,"y":0.0995},{"g":"dr","x":-1.78,"y":0.0985},{"g":"dr","x":-2.27,"y":0.0995},{"g":"dr","x":-2.5,"y":0.098},{"g":"dr","x":-2.63,"y":0.0966},{"g":"dr","x":-2.73,"y":0.093},{"g":"dr","x":-3.12,"y":0.0926},{"g":"dr","x":-3.48,"y":0.0956},{"g":"dr","x":-3.72,"y":0.0936},{"g":"dr","x":-4.02,"y":0.0906},{"g":"dr","x":-4.45,"y":0.0916},{"g":"dr","x":-6,"y":0.0922},
{"g":"db","x":4.76,"y":8.4},{"g":"db","x":4.52,"y":8.43},{"g":"db","x":4.35,"y":8.46},{"g":"db","x":4.22,"y":8.5},{"g":"db","x":4.1,"y":8.6},{"g":"db","x":3.98,"y":8.666},{"g":"db","x":3.8,"y":8.72},{"g":"db","x":3.55,"y":8.765},{"g":"db","x":3.25,"y":8.795},{"g":"db","x":2.95,"y":8.82},{"g":"db","x":2.46,"y":8.87},{"g":"db","x":2.2,"y":8.9},{"g":"db","x":1.98,"y":8.936},{"g":"db","x":1.61,"y":8.938},{"g":"db","x":1.25,"y":8.96},{"g":"db","x":0.82,"y":9.01},{"g":"db","x":0.4,"y":9.03},{"g":"db","x":0.15,"y":9.07},{"g":"db","x":-0.08,"y":9.13},{"g":"db","x":-0.2,"y":9.2},{"g":"db","x":-0.23,"y":9.22},{"g":"db","x":-0.35,"y":9.24},{"g":"db","x":-0.4,"y":9.23},{"g":"db","x":-0.45,"y":9.3},{"g":"db","x":-0.75,"y":9.33},{"g":"db","x":-1.05,"y":9.355},{"g":"db","x":-1.12,"y":9.39},{"g":"db","x":-1.18,"y":9.355},{"g":"db","x":-1.3,"y":9.37},{"g":"db","x":-1.42,"y":9.385},{"g":"db","x":-1.5,"y":9.355},{"g":"db","x":-1.9,"y":9.355},{"g":"db","x":-2.15,"y":9.415},{"g":"db","x":-2.51,"y":9.5},{"g":"db","x":-2.65,"y":9.55},{"g":"db","x":-2.69,"y":9.61},{"g":"db","x":-2.72,"y":9.59},{"g":"db","x":-3.05,"y":9.6},{"g":"db","x":-3.3,"y":9.65},{"g":"db","x":-3.6,"y":9.73},{"g":"db","x":-3.8,"y":9.74},{"g":"db","x":-4.08,"y":9.78},{"g":"db","x":-4.24,"y":9.73},{"g":"db","x":-4.4,"y":9.74},{"g":"db","x":-4.81,"y":9.82},{"g":"db","x":-5.4,"y":9.85},{"g":"db","x":-6,"y":9.87},
{"g":"gr","x":6,"y":0},{"g":"gr","x":4.55,"y":0},{"g":"gr","x":4.45,"y":0.02},{"g":"gr","x":4.37,"y":0.0367},{"g":"gr","x":4.25,"y":0.039},{"g":"gr","x":4.17,"y":0.0416},{"g":"gr","x":4.05,"y":0.053},{"g":"gr","x":3.92,"y":0.0622},{"g":"gr","x":3.75,"y":0.067},{"g":"gr","x":3.5,"y":0.072},{"g":"gr","x":3.2,"y":0.076},{"g":"gr","x":2.89,"y":0.079},{"g":"gr","x":2.5,"y":0.084},{"g":"gr","x":2.16,"y":0.0877},{"g":"gr","x":1.8,"y":0.091},{"g":"gr","x":1.43,"y":0.0946},{"g":"gr","x":1.0,"y":0.0995},{"g":"gr","x":0.76,"y":0.103},{"g":"gr","x":0.34,"y":0.1035},{"g":"gr","x":0.1,"y":0.106},{"g":"gr","x":-0.02,"y":0.1084},{"g":"gr","x":-0.25,"y":0.114},{"g":"gr","x":-0.45,"y":0.1192},{"g":"gr","x":-0.55,"y":0.119},{"g":"gr","x":-0.69,"y":0.126},{"g":"gr","x":-0.75,"y":0.1255},{"g":"gr","x":-0.84,"y":0.1303},{"g":"gr","x":-0.95,"y":0.129},{"g":"gr","x":-1.36,"y":0.129},{"g":"gr","x":-1.66,"y":0.1298},{"g":"gr","x":-1.75,"y":0.128},{"g":"gr","x":-1.85,"y":0.1254},{"g":"gr","x":-2.21,"y":0.124},{"g":"gr","x":-2.45,"y":0.1264},{"g":"gr","x":-2.88,"y":0.1257},{"g":"gr","x":-2.95,"y":0.124},{"g":"gr","x":-3.0,"y":0.122},{"g":"gr","x":-3.2,"y":0.1225},{"g":"gr","x":-3.43,"y":0.125},{"g":"gr","x":-3.79,"y":0.1247},{"g":"gr","x":-4.03,"y":0.1227},{"g":"gr","x":-4.5,"y":0.124},{"g":"gr","x":-4.88,"y":0.1243},{"g":"gr","x":-6,"y":0.1237},
{"g":"gb","x":4.74,"y":8.4},{"g":"gb","x":4.53,"y":8.43},{"g":"gb","x":4.35,"y":8.46},{"g":"gb","x":4.23,"y":8.49},{"g":"gb","x":4.1,"y":8.6},{"g":"gb","x":3.98,"y":8.69},{"g":"gb","x":3.8,"y":8.73},{"g":"gb","x":3.62,"y":8.757},{"g":"gb","x":3.3,"y":8.79},{"g":"gb","x":3.01,"y":8.826},{"g":"gb","x":2.7,"y":8.855},{"g":"gb","x":2.4,"y":8.885},{"g":"gb","x":2.2,"y":8.91},{"g":"gb","x":1.98,"y":8.934},{"g":"gb","x":1.55,"y":8.948},{"g":"gb","x":1.07,"y":8.993},{"g":"gb","x":0.7,"y":9.032},{"g":"gb","x":0.22,"y":9.06},{"g":"gb","x":-0.1,"y":9.1},{"g":"gb","x":-0.33,"y":9.13},{"g":"gb","x":-0.4,"y":9.2},{"g":"gb","x":-0.45,"y":9.22},{"g":"gb","x":-0.6,"y":9.24},{"g":"gb","x":-0.69,"y":9.26},{"g":"gb","x":-0.75,"y":9.28},{"g":"gb","x":-0.81,"y":9.26},{"g":"gb","x":-0.87,"y":9.317},{"g":"gb","x":-1.2,"y":9.34},{"g":"gb","x":-1.48,"y":9.366},{"g":"gb","x":-1.54,"y":9.395},{"g":"gb","x":-1.6,"y":9.385},{"g":"gb","x":-1.75,"y":9.415},{"g":"gb","x":-1.82,"y":9.38},{"g":"gb","x":-2.09,"y":9.38},{"g":"gb","x":-2.33,"y":9.415},{"g":"gb","x":-2.51,"y":9.454},{"g":"gb","x":-2.82,"y":9.51},{"g":"gb","x":-2.9,"y":9.56},{"g":"gb","x":-2.92,"y":9.61},{"g":"gb","x":-2.97,"y":9.585},{"g":"gb","x":-3.24,"y":9.62},{"g":"gb","x":-3.6,"y":9.69},{"g":"gb","x":-3.91,"y":9.74},{"g":"gb","x":-4.03,"y":9.705},{"g":"gb","x":-4.3,"y":9.74},{"g":"gb","x":-4.64,"y":9.78},{"g":"gb","x":-5.13,"y":9.837},{"g":"gb","x":-5.6,"y":9.85},{"g":"gb","x":-6,"y":9.853},
{"g":"hr","x":6,"y":0},{"g":"hr","x":4.5,"y":0},{"g":"hr","x":4.45,"y":0.015},{"g":"hr","x":4.3,"y":0.0377},{"g":"hr","x":4.16,"y":0.0422},{"g":"hr","x":4.0,"y":0.055},{"g":"hr","x":3.85,"y":0.0652},{"g":"hr","x":3.6,"y":0.0705},{"g":"hr","x":3.43,"y":0.074},{"g":"hr","x":3.1,"y":0.077},{"g":"hr","x":2.82,"y":0.0799},{"g":"hr","x":2.45,"y":0.0845},{"g":"hr","x":2.09,"y":0.0888},{"g":"hr","x":1.7,"y":0.0925},{"g":"hr","x":1.37,"y":0.0958},{"g":"hr","x":1.0,"y":0.1},{"g":"hr","x":0.76,"y":0.1052},{"g":"hr","x":0.39,"y":0.1042},{"g":"hr","x":0.09,"y":0.1048},{"g":"hr","x":-0.21,"y":0.1103},{"g":"hr","x":-0.45,"y":0.117},{"g":"hr","x":-0.58,"y":0.118},{"g":"hr","x":-0.76,"y":0.124},{"g":"hr","x":-0.82,"y":0.127},{"g":"hr","x":-0.88,"y":0.1288},{"g":"hr","x":-1.2,"y":0.132},{"g":"hr","x":-1.43,"y":0.1347},{"g":"hr","x":-1.53,"y":0.1342},{"g":"hr","x":-1.67,"y":0.1368},{"g":"hr","x":-1.85,"y":0.1407},{"g":"hr","x":-2.0,"y":0.138},{"g":"hr","x":-2.15,"y":0.1368},{"g":"hr","x":-2.46,"y":0.1347},{"g":"hr","x":-2.88,"y":0.1328},{"g":"hr","x":-2.95,"y":0.13},{"g":"hr","x":-3.0,"y":0.1288},{"g":"hr","x":-3.24,"y":0.1286},{"g":"hr","x":-3.55,"y":0.1313},{"g":"hr","x":-3.91,"y":0.1307},{"g":"hr","x":-4.1,"y":0.129},{"g":"hr","x":-4.46,"y":0.13},{"g":"hr","x":-6,"y":0.1313},
{"g":"hb","x":4.73,"y":8.4},{"g":"hb","x":4.47,"y":8.44},{"g":"hb","x":4.3,"y":8.46},{"g":"hb","x":4.18,"y":8.49},{"g":"hb","x":4.05,"y":8.6},{"g":"hb","x":3.85,"y":8.716},{"g":"hb","x":3.6,"y":8.755},{"g":"hb","x":3.43,"y":8.775},{"g":"hb","x":3.1,"y":8.81},{"g":"hb","x":2.82,"y":8.836},{"g":"hb","x":2.5,"y":8.865},{"g":"hb","x":2.28,"y":8.885},{"g":"hb","x":1.97,"y":8.928},{"g":"hb","x":1.61,"y":8.94},{"g":"hb","x":1.3,"y":8.96},{"g":"hb","x":1.06,"y":8.983},{"g":"hb","x":0.76,"y":9.038},{"g":"hb","x":0.39,"y":9.06},{"g":"hb","x":0.03,"y":9.07},{"g":"hb","x":-0.2,"y":9.11},{"g":"hb","x":-0.33,"y":9.14},{"g":"hb","x":-0.4,"y":9.2},{"g":"hb","x":-0.45,"y":9.22},{"g":"hb","x":-0.76,"y":9.26},{"g":"hb","x":-0.82,"y":9.28},{"g":"hb","x":-0.88,"y":9.25},{"g":"hb","x":-0.94,"y":9.323},{"g":"hb","x":-1.2,"y":9.34},{"g":"hb","x":-1.43,"y":9.36},{"g":"hb","x":-1.67,"y":9.4},{"g":"hb","x":-1.85,"y":9.415},{"g":"hb","x":-1.93,"y":9.39},{"g":"hb","x":-2.15,"y":9.41},{"g":"hb","x":-2.46,"y":9.445},{"g":"hb","x":-2.82,"y":9.513},{"g":"hb","x":-2.94,"y":9.56},{"g":"hb","x":-2.98,"y":9.61},{"g":"hb","x":-3.05,"y":9.59},{"g":"hb","x":-3.37,"y":9.63},{"g":"hb","x":-3.61,"y":9.67},{"g":"hb","x":-3.91,"y":9.73},{"g":"hb","x":-4.0,"y":9.745},{"g":"hb","x":-4.12,"y":9.71},{"g":"hb","x":-4.46,"y":9.75},{"g":"hb","x":-5.07,"y":9.817},{"g":"hb","x":-5.67,"y":9.847},{"g":"hb","x":-6,"y":9.847}
]
},
"concat": [
{
 "width": 327, "height": 245.5,
 "title": {"text": "(a)", "offset": 17.2},
 "view": {"fill": "#d9d9d9", "stroke": null},
 "resolve": {"axis": {"x": "independent", "y": "independent"}},
 "layer": [
  {"data": {"name": "reg"}, "transform": [{"filter": "substring(datum.g,0,2)=='ar'"}],
   "mark": {"type": "area", "color": "#ff0000", "clip": true},
   "encoding": {
    "x": {"field": "x", "type": "quantitative", "scale": {"domain": [6,-6], "nice": false, "zero": false}, "axis": {"orient":"bottom","values":[6,4,2,0,-2,-4,-6],"format":"d","tickSize":-5,"labelPadding":16,"labelFontSize":15,"labelFlush":false,"domainWidth":2,"title":"Log₁₀(t−t","titleFontSize":14.5,"titleX":120.5,"titleY":42.5,"titleAlign":"left","titleBaseline":"alphabetic","titleAngle":0}},
    "y": {"field": "l", "type": "quantitative", "stack": null, "scale": {"domain": [0,10], "nice": false, "zero": false}, "axis": {"orient":"left","values":[0,2,4,6,8,10],"format":"d","tickSize":-5,"labelPadding":11,"labelFontSize":15,"labelFlush":true,"domainWidth":2,"title":"M(M⊙)","titleFontSize":14,"titleX":-41,"titleY":122.75,"titleAngle":270,"titleAlign":"center","titleBaseline":"middle"}},
    "y2": {"field": "h"},
    "detail": {"field": "g"}}},
  {"data": {"name": "reg"}, "transform": [{"filter": "substring(datum.g,0,2)=='ag'"}],
   "mark": {"type": "area", "color": "#006400", "clip": true},
   "encoding": {
    "x": {"field": "x", "type": "quantitative", "scale": {"domain": [6,-6], "nice": false, "zero": false}, "axis": {"orient":"bottom","values":[6,5.5,5,4.5,4,3.5,3,2.5,2,1.5,1,0.5,0,-0.5,-1,-1.5,-2,-2.5,-3,-3.5,-4,-4.5,-5,-5.5,-6],"tickSize":-3,"labels":false,"domain":false,"title":")","titleFontSize":14.5,"titleX":201.7,"titleY":42.5,"titleAlign":"left","titleBaseline":"alphabetic","titleAngle":0}},
    "y": {"field": "l", "type": "quantitative", "stack": null, "scale": {"domain": [0,10], "nice": false, "zero": false}, "axis": {"orient":"left","values":[0,1,2,3,4,5,6,7,8,9,10],"tickSize":-3,"labels":false,"domain":false,"title":null}},
    "y2": {"field": "h"},
    "detail": {"field": "g"}}},
  {"data": {"name": "reg"}, "transform": [{"filter": "substring(datum.g,0,1)=='a' && (datum.k=='h' || datum.k=='c')"}],
   "mark": {"type": "area", "clip": true},
   "encoding": {
    "x": {"field": "x", "type": "quantitative", "scale": {"domain": [6,-6], "nice": false, "zero": false}, "axis": {"orient":"top","values":[6,4,2,0,-2,-4,-6],"tickSize":-5,"labels":false,"domainWidth":2,"title":null}},
    "y": {"field": "l", "type": "quantitative", "stack": null, "scale": {"domain": [0,10], "nice": false, "zero": false}, "axis": {"orient":"right","values":[0,2,4,6,8,10],"tickSize":-5,"labels":false,"domainWidth":2,"title":null}},
    "y2": {"field": "h"},
    "color": {"field": "k", "type": "nominal", "scale": {"domain": ["h","c"], "range": ["#d9d9d9","#00ffff"]}, "legend": null},
    "detail": {"field": "g"}}},
  {"data": {"name": "kl"}, "transform": [{"filter": "datum.g=='a'"}],
   "mark": {"type": "line", "color": "#0000ff", "strokeWidth": 1.2, "clip": true},
   "encoding": {
    "x": {"field": "x", "type": "quantitative", "scale": {"domain": [6,-6], "nice": false, "zero": false}, "axis": {"orient":"top","values":[6,5.5,5,4.5,4,3.5,3,2.5,2,1.5,1,0.5,0,-0.5,-1,-1.5,-2,-2.5,-3,-3.5,-4,-4.5,-5,-5.5,-6],"tickSize":-3,"labels":false,"domain":false,"title":null}},
    "y": {"field": "y", "type": "quantitative", "scale": {"domain": [0,10], "nice": false, "zero": false}, "axis": {"orient":"right","values":[0,1,2,3,4,5,6,7,8,9,10],"tickSize":-3,"labels":false,"domain":false,"title":null}}}},
  {"data": {"name": "tx"}, "transform": [{"filter": "datum.g=='a'"}],
   "mark": {"type": "text", "align": "left", "baseline": "middle", "font": "DejaVu Sans", "fontSize": 13, "color": "#222"},
   "encoding": {
    "x": {"field": "x", "type": "quantitative", "scale": {"domain": [6,-6], "nice": false, "zero": false}, "axis": {"orient":"bottom","labels":false,"ticks":false,"domain":false,"title":"fin","titleFontSize":10,"titleX":188.3,"titleY":45.5,"titleAlign":"left","titleBaseline":"alphabetic","titleAngle":0}},
    "y": {"field": "y", "type": "quantitative", "scale": {"domain": [0,10], "nice": false, "zero": false}, "axis": null},
    "text": {"field": "t"}}}
 ]
},
{
 "width": 327, "height": 245.5,
 "title": {"text": "(b)", "offset": 17.2},
 "view": {"fill": "#d9d9d9", "stroke": null},
 "resolve": {"axis": {"x": "independent", "y": "independent"}},
 "layer": [
  {"data": {"name": "reg"}, "transform": [{"filter": "substring(datum.g,0,2)=='br'"}],
   "mark": {"type": "area", "color": "#ff0000", "clip": true},
   "encoding": {
    "x": {"field": "x", "type": "quantitative", "scale": {"domain": [6,-6], "nice": false, "zero": false}, "axis": {"orient":"bottom","values":[6,4,2,0,-2,-4,-6],"format":"d","tickSize":-5,"labelPadding":16,"labelFontSize":15,"labelFlush":false,"domainWidth":2,"title":"Log₁₀(t−t","titleFontSize":14.5,"titleX":120.5,"titleY":42.5,"titleAlign":"left","titleBaseline":"alphabetic","titleAngle":0}},
    "y": {"field": "l", "type": "quantitative", "stack": null, "scale": {"domain": [0,10], "nice": false, "zero": false}, "axis": {"orient":"left","values":[0,2,4,6,8,10],"format":"d","tickSize":-5,"labelPadding":11,"labelFontSize":15,"labelFlush":true,"domainWidth":2,"title":"M(M⊙)","titleFontSize":14,"titleX":-41,"titleY":122.75,"titleAngle":270,"titleAlign":"center","titleBaseline":"middle"}},
    "y2": {"field": "h"},
    "detail": {"field": "g"}}},
  {"data": {"name": "reg"}, "transform": [{"filter": "substring(datum.g,0,2)=='bg'"}],
   "mark": {"type": "area", "color": "#006400", "clip": true},
   "encoding": {
    "x": {"field": "x", "type": "quantitative", "scale": {"domain": [6,-6], "nice": false, "zero": false}, "axis": {"orient":"bottom","values":[6,5.5,5,4.5,4,3.5,3,2.5,2,1.5,1,0.5,0,-0.5,-1,-1.5,-2,-2.5,-3,-3.5,-4,-4.5,-5,-5.5,-6],"tickSize":-3,"labels":false,"domain":false,"title":")","titleFontSize":14.5,"titleX":201.7,"titleY":42.5,"titleAlign":"left","titleBaseline":"alphabetic","titleAngle":0}},
    "y": {"field": "l", "type": "quantitative", "stack": null, "scale": {"domain": [0,10], "nice": false, "zero": false}, "axis": {"orient":"left","values":[0,1,2,3,4,5,6,7,8,9,10],"tickSize":-3,"labels":false,"domain":false,"title":null}},
    "y2": {"field": "h"},
    "detail": {"field": "g"}}},
  {"data": {"name": "reg"}, "transform": [{"filter": "substring(datum.g,0,1)=='b' && (datum.k=='h' || datum.k=='c')"}],
   "mark": {"type": "area", "clip": true},
   "encoding": {
    "x": {"field": "x", "type": "quantitative", "scale": {"domain": [6,-6], "nice": false, "zero": false}, "axis": {"orient":"top","values":[6,4,2,0,-2,-4,-6],"tickSize":-5,"labels":false,"domainWidth":2,"title":null}},
    "y": {"field": "l", "type": "quantitative", "stack": null, "scale": {"domain": [0,10], "nice": false, "zero": false}, "axis": {"orient":"right","values":[0,2,4,6,8,10],"tickSize":-5,"labels":false,"domainWidth":2,"title":null}},
    "y2": {"field": "h"},
    "color": {"field": "k", "type": "nominal", "scale": {"domain": ["h","c"], "range": ["#d9d9d9","#00ffff"]}, "legend": null},
    "detail": {"field": "g"}}},
  {"data": {"name": "kl"}, "transform": [{"filter": "datum.g=='b'"}],
   "mark": {"type": "line", "color": "#0000ff", "strokeWidth": 1.2, "clip": true},
   "encoding": {
    "x": {"field": "x", "type": "quantitative", "scale": {"domain": [6,-6], "nice": false, "zero": false}, "axis": {"orient":"top","values":[6,5.5,5,4.5,4,3.5,3,2.5,2,1.5,1,0.5,0,-0.5,-1,-1.5,-2,-2.5,-3,-3.5,-4,-4.5,-5,-5.5,-6],"tickSize":-3,"labels":false,"domain":false,"title":null}},
    "y": {"field": "y", "type": "quantitative", "scale": {"domain": [0,10], "nice": false, "zero": false}, "axis": {"orient":"right","values":[0,1,2,3,4,5,6,7,8,9,10],"tickSize":-3,"labels":false,"domain":false,"title":null}}}},
  {"data": {"name": "tx"}, "transform": [{"filter": "datum.g=='b'"}],
   "mark": {"type": "text", "align": "left", "baseline": "middle", "font": "DejaVu Sans", "fontSize": 13, "color": "#222"},
   "encoding": {
    "x": {"field": "x", "type": "quantitative", "scale": {"domain": [6,-6], "nice": false, "zero": false}, "axis": {"orient":"bottom","labels":false,"ticks":false,"domain":false,"title":"fin","titleFontSize":10,"titleX":188.3,"titleY":45.5,"titleAlign":"left","titleBaseline":"alphabetic","titleAngle":0}},
    "y": {"field": "y", "type": "quantitative", "scale": {"domain": [0,10], "nice": false, "zero": false}, "axis": null},
    "text": {"field": "t"}}}
 ]
},
{
 "width": 329.5, "height": 271,
 "title": {"text": "(c)", "offset": 24.9},
 "view": {"stroke": null},
 "resolve": {"scale": {"y": "independent"}, "axis": {"x": "independent", "y": "independent"}},
 "layer": [
  {"data": {"name": "xi"}, "transform": [{"filter": "datum.g=='cr'"}],
   "mark": {"type": "line", "color": "#ff0000", "strokeWidth": 1.8},
   "encoding": {
    "x": {"field": "x", "type": "quantitative", "scale": {"domain": [6,-6], "nice": false, "zero": false}, "axis": {"orient":"bottom","values":[6,5.5,5,4.5,4,3.5,3,2.5,2,1.5,1,0.5,0,-0.5,-1,-1.5,-2,-2.5,-3,-3.5,-4,-4.5,-5,-5.5,-6],"format":"d","labelExpr":"datum.value % 2 === 0 ? datum.label : ''","tickSize":-4,"labelPadding":16.4,"labelFontSize":16,"labelFlush":false,"domainWidth":1.3,"title":"Log₁₀(t−t","titleFontSize":16,"titleX":117.3,"titleY":46.5,"titleAlign":"left","titleBaseline":"alphabetic","titleAngle":0}},
    "y": {"field": "y", "type": "quantitative", "scale": {"domain": [0,0.16], "nice": false, "zero": false}, "axis": {"orient":"left","values":[0,0.02,0.04,0.06,0.08,0.1,0.12,0.14,0.16],"format":".2f","tickSize":-6.5,"labelPadding":12.9,"labelFontSize":16,"labelFlush":true,"domainWidth":1.3,"title":"ξ","titleFontSize":15,"titleX":-61.7,"titleY":142.3,"titleAngle":270,"titleAlign":"center","titleBaseline":"middle"}}}},
  {"data": {"name": "xi"}, "transform": [{"filter": "datum.g=='cb'"}],
   "mark": {"type": "line", "color": "#0000ff", "strokeWidth": 1.8},
   "encoding": {
    "x": {"field": "x", "type": "quantitative", "scale": {"domain": [6,-6], "nice": false, "zero": false}, "axis": {"orient":"top","values":[6,5.5,5,4.5,4,3.5,3,2.5,2,1.5,1,0.5,0,-0.5,-1,-1.5,-2,-2.5,-3,-3.5,-4,-4.5,-5,-5.5,-6],"tickSize":-4,"labels":false,"domainWidth":1.3,"title":")","titleFontSize":16,"titleX":206.7,"titleY":317.5,"titleAlign":"left","titleBaseline":"alphabetic","titleAngle":0}},
    "y": {"field": "y", "type": "quantitative", "scale": {"domain": [8.4,10], "nice": false, "zero": false}, "axis": {"orient":"right","values":[8.4,8.6,8.8,9,9.2,9.4,9.6,9.8,10],"format":".1f","tickSize":-6,"tickColor":"#0000ff","labelColor":"#0000ff","domainColor":"#0000ff","domainWidth":1.3,"labelPadding":11.3,"labelFontSize":16,"labelFlush":true,"title":null}}}},
  {"data": {"name": "tx"}, "transform": [{"filter": "datum.g=='c'"}],
   "mark": {"type": "text", "align": "left", "baseline": "middle", "font": "DejaVu Sans", "fontSize": 13, "color": "#222"},
   "encoding": {
    "x": {"field": "x", "type": "quantitative", "scale": {"domain": [6,-6], "nice": false, "zero": false}, "axis": {"orient":"bottom","labels":false,"ticks":false,"domain":false,"title":"fin","titleFontSize":11,"titleX":192,"titleY":49,"titleAlign":"left","titleBaseline":"alphabetic","titleAngle":0}},
    "y": {"field": "y", "type": "quantitative", "scale": {"domain": [0,0.16], "nice": false, "zero": false}, "axis": {"orient":"left","labels":false,"ticks":false,"domain":false,"title":"CO","titleFontSize":10,"titleX":-53,"titleY":131.3,"titleAngle":270,"titleAlign":"center","titleBaseline":"middle"}},
    "text": {"field": "t"}}}
 ]
},
{
 "width": 329.5, "height": 271,
 "title": {"text": "(d)", "offset": 24.9},
 "view": {"stroke": null},
 "resolve": {"scale": {"y": "independent"}, "axis": {"x": "independent", "y": "independent"}},
 "layer": [
  {"data": {"name": "xi"}, "transform": [{"filter": "datum.g=='dr'"}],
   "mark": {"type": "line", "color": "#ff0000", "strokeWidth": 1.8},
   "encoding": {
    "x": {"field": "x", "type": "quantitative", "scale": {"domain": [6,-6], "nice": false, "zero": false}, "axis": {"orient":"bottom","values":[6,5.5,5,4.5,4,3.5,3,2.5,2,1.5,1,0.5,0,-0.5,-1,-1.5,-2,-2.5,-3,-3.5,-4,-4.5,-5,-5.5,-6],"format":"d","labelExpr":"datum.value % 2 === 0 ? datum.label : ''","tickSize":-4,"labelPadding":16.4,"labelFontSize":16,"labelFlush":false,"domainWidth":1.3,"title":"Log₁₀(t−t","titleFontSize":16,"titleX":117.3,"titleY":46.5,"titleAlign":"left","titleBaseline":"alphabetic","titleAngle":0}},
    "y": {"field": "y", "type": "quantitative", "scale": {"domain": [0,0.16], "nice": false, "zero": false}, "axis": {"orient":"left","values":[0,0.02,0.04,0.06,0.08,0.1,0.12,0.14,0.16],"format":".2f","tickSize":-6.5,"labelPadding":12.9,"labelFontSize":16,"labelFlush":true,"domainWidth":1.3,"title":"ξ","titleFontSize":15,"titleX":-61.7,"titleY":142.3,"titleAngle":270,"titleAlign":"center","titleBaseline":"middle"}}}},
  {"data": {"name": "xi"}, "transform": [{"filter": "datum.g=='db'"}],
   "mark": {"type": "line", "color": "#0000ff", "strokeWidth": 1.8},
   "encoding": {
    "x": {"field": "x", "type": "quantitative", "scale": {"domain": [6,-6], "nice": false, "zero": false}, "axis": {"orient":"top","values":[6,5.5,5,4.5,4,3.5,3,2.5,2,1.5,1,0.5,0,-0.5,-1,-1.5,-2,-2.5,-3,-3.5,-4,-4.5,-5,-5.5,-6],"tickSize":-4,"labels":false,"domainWidth":1.3,"title":")","titleFontSize":16,"titleX":206.7,"titleY":317.5,"titleAlign":"left","titleBaseline":"alphabetic","titleAngle":0}},
    "y": {"field": "y", "type": "quantitative", "scale": {"domain": [8.4,10], "nice": false, "zero": false}, "axis": {"orient":"right","values":[8.4,8.6,8.8,9,9.2,9.4,9.6,9.8,10],"format":".1f","tickSize":-6,"tickColor":"#0000ff","labelColor":"#0000ff","domainColor":"#0000ff","domainWidth":1.3,"labelPadding":11.3,"labelFontSize":16,"labelFlush":true,"title":null}}}},
  {"data": {"name": "tx"}, "transform": [{"filter": "datum.g=='d'"}],
   "mark": {"type": "text", "align": "left", "baseline": "middle", "font": "DejaVu Sans", "fontSize": 13, "color": "#222"},
   "encoding": {
    "x": {"field": "x", "type": "quantitative", "scale": {"domain": [6,-6], "nice": false, "zero": false}, "axis": {"orient":"bottom","labels":false,"ticks":false,"domain":false,"title":"fin","titleFontSize":11,"titleX":192,"titleY":49,"titleAlign":"left","titleBaseline":"alphabetic","titleAngle":0}},
    "y": {"field": "y", "type": "quantitative", "scale": {"domain": [0,0.16], "nice": false, "zero": false}, "axis": {"orient":"left","labels":false,"ticks":false,"domain":false,"title":"CO","titleFontSize":10,"titleX":-53,"titleY":131.3,"titleAngle":270,"titleAlign":"center","titleBaseline":"middle"}},
    "text": {"field": "t"}}}
 ]
},
{
 "width": 327, "height": 245.5,
 "title": {"text": "(e)", "offset": 17.2},
 "view": {"fill": "#d9d9d9", "stroke": null},
 "resolve": {"axis": {"x": "independent", "y": "independent"}},
 "layer": [
  {"data": {"name": "reg"}, "transform": [{"filter": "substring(datum.g,0,2)=='er'"}],
   "mark": {"type": "area", "color": "#ff0000", "clip": true},
   "encoding": {
    "x": {"field": "x", "type": "quantitative", "scale": {"domain": [6,-6], "nice": false, "zero": false}, "axis": {"orient":"bottom","values":[6,4,2,0,-2,-4,-6],"format":"d","tickSize":-5,"labelPadding":16,"labelFontSize":15,"labelFlush":false,"domainWidth":2,"title":"Log₁₀(t−t","titleFontSize":14.5,"titleX":120.5,"titleY":42.5,"titleAlign":"left","titleBaseline":"alphabetic","titleAngle":0}},
    "y": {"field": "l", "type": "quantitative", "stack": null, "scale": {"domain": [0,10], "nice": false, "zero": false}, "axis": {"orient":"left","values":[0,2,4,6,8,10],"format":"d","tickSize":-5,"labelPadding":11,"labelFontSize":15,"labelFlush":true,"domainWidth":2,"title":"M(M⊙)","titleFontSize":14,"titleX":-41,"titleY":122.75,"titleAngle":270,"titleAlign":"center","titleBaseline":"middle"}},
    "y2": {"field": "h"},
    "detail": {"field": "g"}}},
  {"data": {"name": "reg"}, "transform": [{"filter": "substring(datum.g,0,2)=='eg'"}],
   "mark": {"type": "area", "color": "#006400", "clip": true},
   "encoding": {
    "x": {"field": "x", "type": "quantitative", "scale": {"domain": [6,-6], "nice": false, "zero": false}, "axis": {"orient":"bottom","values":[6,5.5,5,4.5,4,3.5,3,2.5,2,1.5,1,0.5,0,-0.5,-1,-1.5,-2,-2.5,-3,-3.5,-4,-4.5,-5,-5.5,-6],"tickSize":-3,"labels":false,"domain":false,"title":")","titleFontSize":14.5,"titleX":201.7,"titleY":42.5,"titleAlign":"left","titleBaseline":"alphabetic","titleAngle":0}},
    "y": {"field": "l", "type": "quantitative", "stack": null, "scale": {"domain": [0,10], "nice": false, "zero": false}, "axis": {"orient":"left","values":[0,1,2,3,4,5,6,7,8,9,10],"tickSize":-3,"labels":false,"domain":false,"title":null}},
    "y2": {"field": "h"},
    "detail": {"field": "g"}}},
  {"data": {"name": "reg"}, "transform": [{"filter": "substring(datum.g,0,1)=='e' && (datum.k=='h' || datum.k=='c')"}],
   "mark": {"type": "area", "clip": true},
   "encoding": {
    "x": {"field": "x", "type": "quantitative", "scale": {"domain": [6,-6], "nice": false, "zero": false}, "axis": {"orient":"top","values":[6,4,2,0,-2,-4,-6],"tickSize":-5,"labels":false,"domainWidth":2,"title":null}},
    "y": {"field": "l", "type": "quantitative", "stack": null, "scale": {"domain": [0,10], "nice": false, "zero": false}, "axis": {"orient":"right","values":[0,2,4,6,8,10],"tickSize":-5,"labels":false,"domainWidth":2,"title":null}},
    "y2": {"field": "h"},
    "color": {"field": "k", "type": "nominal", "scale": {"domain": ["h","c"], "range": ["#d9d9d9","#00ffff"]}, "legend": null},
    "detail": {"field": "g"}}},
  {"data": {"name": "kl"}, "transform": [{"filter": "datum.g=='e'"}],
   "mark": {"type": "line", "color": "#0000ff", "strokeWidth": 1.2, "clip": true},
   "encoding": {
    "x": {"field": "x", "type": "quantitative", "scale": {"domain": [6,-6], "nice": false, "zero": false}, "axis": {"orient":"top","values":[6,5.5,5,4.5,4,3.5,3,2.5,2,1.5,1,0.5,0,-0.5,-1,-1.5,-2,-2.5,-3,-3.5,-4,-4.5,-5,-5.5,-6],"tickSize":-3,"labels":false,"domain":false,"title":null}},
    "y": {"field": "y", "type": "quantitative", "scale": {"domain": [0,10], "nice": false, "zero": false}, "axis": {"orient":"right","values":[0,1,2,3,4,5,6,7,8,9,10],"tickSize":-3,"labels":false,"domain":false,"title":null}}}},
  {"data": {"name": "tx"}, "transform": [{"filter": "datum.g=='e'"}],
   "mark": {"type": "text", "align": "left", "baseline": "middle", "font": "DejaVu Sans", "fontSize": 13, "color": "#222"},
   "encoding": {
    "x": {"field": "x", "type": "quantitative", "scale": {"domain": [6,-6], "nice": false, "zero": false}, "axis": {"orient":"bottom","labels":false,"ticks":false,"domain":false,"title":"fin","titleFontSize":10,"titleX":188.3,"titleY":45.5,"titleAlign":"left","titleBaseline":"alphabetic","titleAngle":0}},
    "y": {"field": "y", "type": "quantitative", "scale": {"domain": [0,10], "nice": false, "zero": false}, "axis": null},
    "text": {"field": "t"}}}
 ]
},
{
 "width": 327, "height": 245.5,
 "title": {"text": "(f)", "offset": 17.2},
 "view": {"fill": "#d9d9d9", "stroke": null},
 "resolve": {"axis": {"x": "independent", "y": "independent"}},
 "layer": [
  {"data": {"name": "reg"}, "transform": [{"filter": "substring(datum.g,0,2)=='fr'"}],
   "mark": {"type": "area", "color": "#ff0000", "clip": true},
   "encoding": {
    "x": {"field": "x", "type": "quantitative", "scale": {"domain": [6,-6], "nice": false, "zero": false}, "axis": {"orient":"bottom","values":[6,4,2,0,-2,-4,-6],"format":"d","tickSize":-5,"labelPadding":16,"labelFontSize":15,"labelFlush":false,"domainWidth":2,"title":"Log₁₀(t−t","titleFontSize":14.5,"titleX":120.5,"titleY":42.5,"titleAlign":"left","titleBaseline":"alphabetic","titleAngle":0}},
    "y": {"field": "l", "type": "quantitative", "stack": null, "scale": {"domain": [0,10], "nice": false, "zero": false}, "axis": {"orient":"left","values":[0,2,4,6,8,10],"format":"d","tickSize":-5,"labelPadding":11,"labelFontSize":15,"labelFlush":true,"domainWidth":2,"title":"M(M⊙)","titleFontSize":14,"titleX":-41,"titleY":122.75,"titleAngle":270,"titleAlign":"center","titleBaseline":"middle"}},
    "y2": {"field": "h"},
    "detail": {"field": "g"}}},
  {"data": {"name": "reg"}, "transform": [{"filter": "substring(datum.g,0,2)=='fg'"}],
   "mark": {"type": "area", "color": "#006400", "clip": true},
   "encoding": {
    "x": {"field": "x", "type": "quantitative", "scale": {"domain": [6,-6], "nice": false, "zero": false}, "axis": {"orient":"bottom","values":[6,5.5,5,4.5,4,3.5,3,2.5,2,1.5,1,0.5,0,-0.5,-1,-1.5,-2,-2.5,-3,-3.5,-4,-4.5,-5,-5.5,-6],"tickSize":-3,"labels":false,"domain":false,"title":")","titleFontSize":14.5,"titleX":201.7,"titleY":42.5,"titleAlign":"left","titleBaseline":"alphabetic","titleAngle":0}},
    "y": {"field": "l", "type": "quantitative", "stack": null, "scale": {"domain": [0,10], "nice": false, "zero": false}, "axis": {"orient":"left","values":[0,1,2,3,4,5,6,7,8,9,10],"tickSize":-3,"labels":false,"domain":false,"title":null}},
    "y2": {"field": "h"},
    "detail": {"field": "g"}}},
  {"data": {"name": "reg"}, "transform": [{"filter": "substring(datum.g,0,1)=='f' && (datum.k=='h' || datum.k=='c')"}],
   "mark": {"type": "area", "clip": true},
   "encoding": {
    "x": {"field": "x", "type": "quantitative", "scale": {"domain": [6,-6], "nice": false, "zero": false}, "axis": {"orient":"top","values":[6,4,2,0,-2,-4,-6],"tickSize":-5,"labels":false,"domainWidth":2,"title":null}},
    "y": {"field": "l", "type": "quantitative", "stack": null, "scale": {"domain": [0,10], "nice": false, "zero": false}, "axis": {"orient":"right","values":[0,2,4,6,8,10],"tickSize":-5,"labels":false,"domainWidth":2,"title":null}},
    "y2": {"field": "h"},
    "color": {"field": "k", "type": "nominal", "scale": {"domain": ["h","c"], "range": ["#d9d9d9","#00ffff"]}, "legend": null},
    "detail": {"field": "g"}}},
  {"data": {"name": "kl"}, "transform": [{"filter": "datum.g=='f'"}],
   "mark": {"type": "line", "color": "#0000ff", "strokeWidth": 1.2, "clip": true},
   "encoding": {
    "x": {"field": "x", "type": "quantitative", "scale": {"domain": [6,-6], "nice": false, "zero": false}, "axis": {"orient":"top","values":[6,5.5,5,4.5,4,3.5,3,2.5,2,1.5,1,0.5,0,-0.5,-1,-1.5,-2,-2.5,-3,-3.5,-4,-4.5,-5,-5.5,-6],"tickSize":-3,"labels":false,"domain":false,"title":null}},
    "y": {"field": "y", "type": "quantitative", "scale": {"domain": [0,10], "nice": false, "zero": false}, "axis": {"orient":"right","values":[0,1,2,3,4,5,6,7,8,9,10],"tickSize":-3,"labels":false,"domain":false,"title":null}}}},
  {"data": {"name": "tx"}, "transform": [{"filter": "datum.g=='f'"}],
   "mark": {"type": "text", "align": "left", "baseline": "middle", "font": "DejaVu Sans", "fontSize": 13, "color": "#222"},
   "encoding": {
    "x": {"field": "x", "type": "quantitative", "scale": {"domain": [6,-6], "nice": false, "zero": false}, "axis": {"orient":"bottom","labels":false,"ticks":false,"domain":false,"title":"fin","titleFontSize":10,"titleX":188.3,"titleY":45.5,"titleAlign":"left","titleBaseline":"alphabetic","titleAngle":0}},
    "y": {"field": "y", "type": "quantitative", "scale": {"domain": [0,10], "nice": false, "zero": false}, "axis": null},
    "text": {"field": "t"}}}
 ]
},
{
 "width": 329.5, "height": 271,
 "title": {"text": "(g)", "offset": 24.9},
 "view": {"stroke": null},
 "resolve": {"scale": {"y": "independent"}, "axis": {"x": "independent", "y": "independent"}},
 "layer": [
  {"data": {"name": "xi"}, "transform": [{"filter": "datum.g=='gr'"}],
   "mark": {"type": "line", "color": "#ff0000", "strokeWidth": 1.8},
   "encoding": {
    "x": {"field": "x", "type": "quantitative", "scale": {"domain": [6,-6], "nice": false, "zero": false}, "axis": {"orient":"bottom","values":[6,5.5,5,4.5,4,3.5,3,2.5,2,1.5,1,0.5,0,-0.5,-1,-1.5,-2,-2.5,-3,-3.5,-4,-4.5,-5,-5.5,-6],"format":"d","labelExpr":"datum.value % 2 === 0 ? datum.label : ''","tickSize":-4,"labelPadding":16.4,"labelFontSize":16,"labelFlush":false,"domainWidth":1.3,"title":"Log₁₀(t−t","titleFontSize":16,"titleX":117.3,"titleY":46.5,"titleAlign":"left","titleBaseline":"alphabetic","titleAngle":0}},
    "y": {"field": "y", "type": "quantitative", "scale": {"domain": [0,0.16], "nice": false, "zero": false}, "axis": {"orient":"left","values":[0,0.02,0.04,0.06,0.08,0.1,0.12,0.14,0.16],"format":".2f","tickSize":-6.5,"labelPadding":12.9,"labelFontSize":16,"labelFlush":true,"domainWidth":1.3,"title":"ξ","titleFontSize":15,"titleX":-61.7,"titleY":142.3,"titleAngle":270,"titleAlign":"center","titleBaseline":"middle"}}}},
  {"data": {"name": "xi"}, "transform": [{"filter": "datum.g=='gb'"}],
   "mark": {"type": "line", "color": "#0000ff", "strokeWidth": 1.8},
   "encoding": {
    "x": {"field": "x", "type": "quantitative", "scale": {"domain": [6,-6], "nice": false, "zero": false}, "axis": {"orient":"top","values":[6,5.5,5,4.5,4,3.5,3,2.5,2,1.5,1,0.5,0,-0.5,-1,-1.5,-2,-2.5,-3,-3.5,-4,-4.5,-5,-5.5,-6],"tickSize":-4,"labels":false,"domainWidth":1.3,"title":")","titleFontSize":16,"titleX":206.7,"titleY":317.5,"titleAlign":"left","titleBaseline":"alphabetic","titleAngle":0}},
    "y": {"field": "y", "type": "quantitative", "scale": {"domain": [8.4,10], "nice": false, "zero": false}, "axis": {"orient":"right","values":[8.4,8.6,8.8,9,9.2,9.4,9.6,9.8,10],"format":".1f","tickSize":-6,"tickColor":"#0000ff","labelColor":"#0000ff","domainColor":"#0000ff","domainWidth":1.3,"labelPadding":11.3,"labelFontSize":16,"labelFlush":true,"title":null}}}},
  {"data": {"name": "tx"}, "transform": [{"filter": "datum.g=='g'"}],
   "mark": {"type": "text", "align": "left", "baseline": "middle", "font": "DejaVu Sans", "fontSize": 13, "color": "#222"},
   "encoding": {
    "x": {"field": "x", "type": "quantitative", "scale": {"domain": [6,-6], "nice": false, "zero": false}, "axis": {"orient":"bottom","labels":false,"ticks":false,"domain":false,"title":"fin","titleFontSize":11,"titleX":192,"titleY":49,"titleAlign":"left","titleBaseline":"alphabetic","titleAngle":0}},
    "y": {"field": "y", "type": "quantitative", "scale": {"domain": [0,0.16], "nice": false, "zero": false}, "axis": {"orient":"left","labels":false,"ticks":false,"domain":false,"title":"CO","titleFontSize":10,"titleX":-53,"titleY":131.3,"titleAngle":270,"titleAlign":"center","titleBaseline":"middle"}},
    "text": {"field": "t"}}}
 ]
},
{
 "width": 329.5, "height": 271,
 "title": {"text": "(h)", "offset": 24.9},
 "view": {"stroke": null},
 "resolve": {"scale": {"y": "independent"}, "axis": {"x": "independent", "y": "independent"}},
 "layer": [
  {"data": {"name": "xi"}, "transform": [{"filter": "datum.g=='hr'"}],
   "mark": {"type": "line", "color": "#ff0000", "strokeWidth": 1.8},
   "encoding": {
    "x": {"field": "x", "type": "quantitative", "scale": {"domain": [6,-6], "nice": false, "zero": false}, "axis": {"orient":"bottom","values":[6,5.5,5,4.5,4,3.5,3,2.5,2,1.5,1,0.5,0,-0.5,-1,-1.5,-2,-2.5,-3,-3.5,-4,-4.5,-5,-5.5,-6],"format":"d","labelExpr":"datum.value % 2 === 0 ? datum.label : ''","tickSize":-4,"labelPadding":16.4,"labelFontSize":16,"labelFlush":false,"domainWidth":1.3,"title":"Log₁₀(t−t","titleFontSize":16,"titleX":117.3,"titleY":46.5,"titleAlign":"left","titleBaseline":"alphabetic","titleAngle":0}},
    "y": {"field": "y", "type": "quantitative", "scale": {"domain": [0,0.16], "nice": false, "zero": false}, "axis": {"orient":"left","values":[0,0.02,0.04,0.06,0.08,0.1,0.12,0.14,0.16],"format":".2f","tickSize":-6.5,"labelPadding":12.9,"labelFontSize":16,"labelFlush":true,"domainWidth":1.3,"title":"ξ","titleFontSize":15,"titleX":-61.7,"titleY":142.3,"titleAngle":270,"titleAlign":"center","titleBaseline":"middle"}}}},
  {"data": {"name": "xi"}, "transform": [{"filter": "datum.g=='hb'"}],
   "mark": {"type": "line", "color": "#0000ff", "strokeWidth": 1.8},
   "encoding": {
    "x": {"field": "x", "type": "quantitative", "scale": {"domain": [6,-6], "nice": false, "zero": false}, "axis": {"orient":"top","values":[6,5.5,5,4.5,4,3.5,3,2.5,2,1.5,1,0.5,0,-0.5,-1,-1.5,-2,-2.5,-3,-3.5,-4,-4.5,-5,-5.5,-6],"tickSize":-4,"labels":false,"domainWidth":1.3,"title":")","titleFontSize":16,"titleX":206.7,"titleY":317.5,"titleAlign":"left","titleBaseline":"alphabetic","titleAngle":0}},
    "y": {"field": "y", "type": "quantitative", "scale": {"domain": [8.4,10], "nice": false, "zero": false}, "axis": {"orient":"right","values":[8.4,8.6,8.8,9,9.2,9.4,9.6,9.8,10],"format":".1f","tickSize":-6,"tickColor":"#0000ff","labelColor":"#0000ff","domainColor":"#0000ff","domainWidth":1.3,"labelPadding":11.3,"labelFontSize":16,"labelFlush":true,"title":null}}}},
  {"data": {"name": "tx"}, "transform": [{"filter": "datum.g=='h'"}],
   "mark": {"type": "text", "align": "left", "baseline": "middle", "font": "DejaVu Sans", "fontSize": 13, "color": "#222"},
   "encoding": {
    "x": {"field": "x", "type": "quantitative", "scale": {"domain": [6,-6], "nice": false, "zero": false}, "axis": {"orient":"bottom","labels":false,"ticks":false,"domain":false,"title":"fin","titleFontSize":11,"titleX":192,"titleY":49,"titleAlign":"left","titleBaseline":"alphabetic","titleAngle":0}},
    "y": {"field": "y", "type": "quantitative", "scale": {"domain": [0,0.16], "nice": false, "zero": false}, "axis": {"orient":"left","labels":false,"ticks":false,"domain":false,"title":"CO","titleFontSize":10,"titleX":-53,"titleY":131.3,"titleAngle":270,"titleAlign":"center","titleBaseline":"middle"}},
    "text": {"field": "t"}}}
 ]
}
]
}
